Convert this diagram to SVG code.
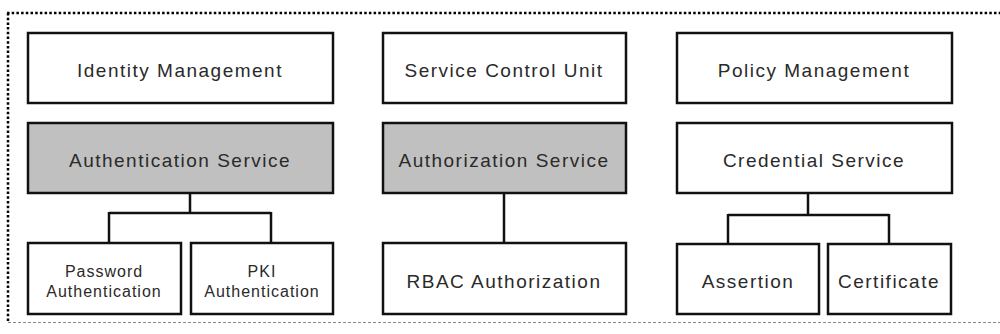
<svg xmlns="http://www.w3.org/2000/svg" width="1000" height="334" viewBox="0 0 1000 334">
<style>
.box{fill:#fff;stroke:#111;stroke-width:2.5}
.gray{fill:#c0c0c0}
.lbl{font-family:"Liberation Sans",Arial,sans-serif;font-size:19px;letter-spacing:1.5px;fill:#2a2a2a;text-anchor:middle}
.sm{font-size:16px;letter-spacing:1px}
.conn{fill:none;stroke:#111;stroke-width:2.5}
.dot{fill:none;stroke:#000;stroke-width:2.5;stroke-dasharray:2.5 2.2}
</style>
<g id="frame">
<path class="dot" d="M7,13 H1000"/>
<path class="dot" d="M8,13 V322"/>
<path d="M8,322.5 H1000" stroke="#888" stroke-width="1" stroke-dasharray="3 2" fill="none"/>
</g>
<g id="connectors">
<path class="conn" d="M190,193 V213 M109,213 H271 M109,212 V243 M271,212 V243"/>
<path class="conn" d="M504,193 V243"/>
<path class="conn" d="M808,193 V215 M728,215 H889 M728,214 V244 M889,214 V244"/>
</g>
<g id="identity-management"><rect class="box" x="28" y="33" width="305" height="70"/><text class="lbl" x="180" y="77">Identity Management</text></g>
<g id="service-control-unit"><rect class="box" x="383" y="33" width="243" height="70"/><text class="lbl" x="504" y="77">Service Control Unit</text></g>
<g id="policy-management"><rect class="box" x="677" y="33" width="275" height="70"/><text class="lbl" x="814" y="77">Policy Management</text></g>
<g id="authentication-service"><rect class="box gray" x="28" y="123" width="305" height="70"/><text class="lbl" x="180" y="167">Authentication Service</text></g>
<g id="authorization-service"><rect class="box gray" x="383" y="123" width="243" height="70"/><text class="lbl" x="504" y="167">Authorization Service</text></g>
<g id="credential-service"><rect class="box" x="677" y="123" width="275" height="70"/><text class="lbl" x="814" y="167">Credential Service</text></g>
<g id="password-authentication"><rect class="box" x="28" y="243" width="153" height="71"/><text class="lbl sm" x="104" y="277">Password</text><text class="lbl sm" x="104" y="297">Authentication</text></g>
<g id="pki-authentication"><rect class="box" x="191" y="243" width="142" height="71"/><text class="lbl sm" x="262" y="277">PKI</text><text class="lbl sm" x="262" y="297">Authentication</text></g>
<g id="rbac-authorization"><rect class="box" x="383" y="243" width="243" height="71"/><text class="lbl" x="504" y="288">RBAC Authorization</text></g>
<g id="assertion"><rect class="box" x="677" y="244" width="142" height="70"/><text class="lbl" x="748" y="288">Assertion</text></g>
<g id="certificate"><rect class="box" x="828" y="244" width="123" height="70"/><text class="lbl" x="889" y="288">Certificate</text></g>
</svg>
